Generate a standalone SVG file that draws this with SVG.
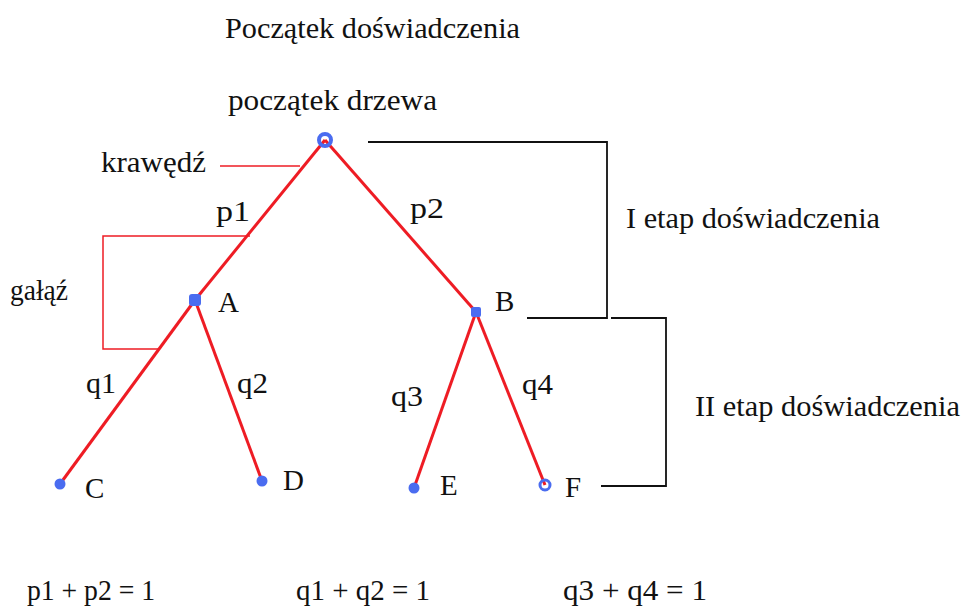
<svg xmlns="http://www.w3.org/2000/svg" width="963" height="611" viewBox="0 0 963 611">
<style>
text{font-family:"Liberation Serif","Times New Roman",serif;font-size:29px;fill:#111}
.e{stroke:#ee1c24;stroke-width:3;fill:none}
.r{stroke:#ee1c24;stroke-width:1.5;fill:none}
.k{stroke:#111;stroke-width:1.8;fill:none}
.n{fill:#4a6cf0}
</style>
<rect width="963" height="611" fill="#fff"/>
<text x="225" y="38" textLength="295" lengthAdjust="spacingAndGlyphs">Początek doświadczenia</text>
<g id="connectors">
<line class="e" x1="325" y1="140" x2="195" y2="300"/>
<line class="e" x1="325" y1="140" x2="476" y2="312"/>
<line class="e" x1="195" y1="300" x2="60" y2="484"/>
<line class="e" x1="195" y1="300" x2="262" y2="481"/>
<line class="e" x1="476" y1="312" x2="414" y2="488"/>
<line class="e" x1="476" y1="312" x2="545" y2="485"/>
<text x="216" y="221" textLength="34" lengthAdjust="spacingAndGlyphs">p1</text>
<text x="410" y="218" textLength="34" lengthAdjust="spacingAndGlyphs">p2</text>
<text x="86" y="393" textLength="30" lengthAdjust="spacingAndGlyphs">q1</text>
<text x="237" y="393" textLength="31" lengthAdjust="spacingAndGlyphs">q2</text>
<text x="391" y="406" textLength="32" lengthAdjust="spacingAndGlyphs">q3</text>
<text x="522" y="394" textLength="31" lengthAdjust="spacingAndGlyphs">q4</text>
</g>
<g id="root">
<circle cx="325" cy="140" r="6" fill="none" stroke="#4a6cf0" stroke-width="4"/>
<text x="228" y="110" textLength="209" lengthAdjust="spacingAndGlyphs">początek drzewa</text>
</g>
<g id="A"><rect class="n" x="189" y="294" width="12" height="12" rx="3"/><text x="218" y="312">A</text></g>
<g id="B"><rect class="n" x="471" y="307" width="10" height="10" rx="2"/><text x="495" y="311">B</text></g>
<g id="C"><circle class="n" cx="60" cy="484" r="5.5"/><text x="85" y="498">C</text></g>
<g id="D"><circle class="n" cx="262" cy="481" r="5.5"/><text x="283" y="490">D</text></g>
<g id="E"><circle class="n" cx="414" cy="488" r="5.5"/><text x="440" y="495">E</text></g>
<g id="F"><circle cx="545" cy="485" r="5" fill="none" stroke="#4a6cf0" stroke-width="3"/><text x="565" y="497">F</text></g>
<g id="krawedz">
<line class="r" x1="220" y1="166" x2="300" y2="166"/>
<text x="101" y="172" textLength="105" lengthAdjust="spacingAndGlyphs">krawędź</text>
</g>
<g id="galaz">
<polyline class="r" points="250,236 103,236 103,349 158,349"/>
<text x="10" y="300" textLength="58" lengthAdjust="spacingAndGlyphs">gałąź</text>
</g>
<g id="etap1">
<polyline class="k" points="368,142 607,142 607,318 527,318"/>
<text x="626" y="228" textLength="254" lengthAdjust="spacingAndGlyphs">I etap doświadczenia</text>
</g>
<g id="etap2">
<polyline class="k" points="611,318 666,318 666,486 601,486"/>
<text x="695" y="416" textLength="265" lengthAdjust="spacingAndGlyphs">II etap doświadczenia</text>
</g>
<g id="equations">
<text x="27" y="600" textLength="128" lengthAdjust="spacingAndGlyphs">p1 + p2 = 1</text>
<text x="296" y="600" textLength="134" lengthAdjust="spacingAndGlyphs">q1 + q2 = 1</text>
<text x="563" y="600" textLength="144" lengthAdjust="spacingAndGlyphs">q3 + q4 = 1</text>
</g>
</svg>
